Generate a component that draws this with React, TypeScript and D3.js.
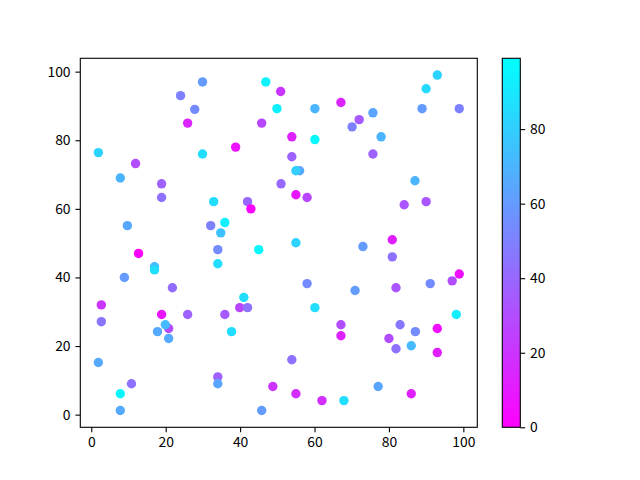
import React, { useEffect, useRef } from "react";
import * as d3 from "d3";

const xs = [1.9, 7.8, 11.9, 18.9, 24, 25.9, 27.8, 29.9, 29.9, 38.8, 45.8, 46.9, 50.9, 49.9, 51, 60.1, 67.1, 75.7, 72, 70.1, 77.9, 88.9, 98.9, 90, 93, 53.9, 60.1, 53.9, 75.7, 56, 55, 87, 18.9, 32.9, 42, 42.9, 9.7, 32.1, 35.9, 34.8, 34, 45, 12.7, 17, 17, 34, 8.9, 21.8, 41, 39.9, 42, 2.7, 55, 58, 84.1, 90, 55, 73, 80.9, 80.9, 98.9, 97, 91.1, 81.9, 58, 70.9, 60.1, 2.7, 18.9, 25.9, 35.9, 20.8, 19.9, 17.8, 20.8, 37.7, 1.9, 10.8, 7.8, 7.8, 34, 34, 48.8, 45.8, 98.1, 67.1, 67.1, 83, 87.1, 93, 80, 81.9, 86, 93, 53.9, 55, 62, 67.9, 77.1, 86];
const ys = [76.4, 69, 73.2, 67.3, 93, 85, 89, 97, 76, 78, 85, 97, 94.2, 89.2, 67.3, 89.2, 91, 88, 86, 83.9, 81, 89.2, 89.2, 95, 99, 81, 80.2, 75.2, 76, 71.1, 71.1, 68.2, 63.3, 62.1, 62.1, 60, 55.1, 55.1, 56, 53, 48.1, 48.1, 47, 43.1, 42.2, 44, 40, 37, 34.2, 31.2, 31.2, 32, 64.1, 63.3, 61.2, 62.1, 50.1, 49, 51, 46, 41, 39, 38.2, 37, 38.2, 36.2, 31.2, 27.1, 29.2, 29.2, 29.2, 25.1, 26.2, 24.2, 22.2, 24.2, 15.2, 9, 6.1, 1.2, 11, 9, 8.2, 1.2, 29.2, 26.2, 23, 26.2, 24.2, 25.1, 22.2, 19.2, 20.1, 18.1, 16, 6.1, 4.1, 4.1, 8.2, 6.1];
const cs = [82, 70, 30, 38, 50, 14, 54, 60, 86, 7, 27, 94, 20, 93, 40, 70, 14, 64, 34, 50, 70, 60, 50, 85, 82, 13, 97, 38, 38, 65, 80, 70, 44, 86, 40, 1, 65, 50, 93, 75, 54, 96, 0, 72, 86, 86, 60, 42, 86, 27, 44, 20, 8, 27, 33, 33, 82, 60, 12, 44, 6, 30, 54, 33, 54, 60, 86, 46, 8, 38, 35, 30, 72, 66, 66, 86, 66, 44, 96, 66, 38, 64, 20, 60, 92, 30, 13, 46, 54, 6, 30, 44, 72, 12, 44, 18, 18, 86, 64, 12];

const xTicks = [0, 20, 40, 60, 80, 100];
const yTicks = [0, 20, 40, 60, 80, 100];
const cTicks = [0, 20, 40, 60, 80];
const cMin = 0;
const cMax = 99;

const W = 640, H = 480;
const ax = { left: 80.3, right: 477.3, top: 58.3, bottom: 427.3 };
const cb = { left: 502.3, right: 520.3, top: 58.3, bottom: 427.3 };
const FONT = "'Noto Sans CJK SC', 'DejaVu Sans', sans-serif";
const FS = 13.9;

const cool = (t: number) => {
  const v = Math.max(0, Math.min(1, t));
  return d3.rgb(255 * (1 - v), 255 * v, 255).formatHex();
};

export default function App() {
  const ref = useRef<SVGSVGElement>(null);
  useEffect(() => {
    const svg = d3.select(ref.current);
    svg.selectAll("*").remove();
    const xmin = d3.min(xs)!, xmax = d3.max(xs)!;
    const ymin = d3.min(ys)!, ymax = d3.max(ys)!;
    const mx = (xmax - xmin) * 0.05, my = (ymax - ymin) * 0.05;
    const x = d3.scaleLinear().domain([xmin - mx, xmax + mx]).range([ax.left, ax.right]);
    const y = d3.scaleLinear().domain([ymin - my, ymax + my]).range([ax.bottom, ax.top]);
    const cNorm = d3.scaleLinear().domain([cMin, cMax]).range([0, 1]);

    const g = svg.append("g");
    g.selectAll("circle")
      .data(xs.map((v, i) => ({ x: v, y: ys[i], c: cs[i] })))
      .join("circle")
      .attr("cx", (d) => x(d.x))
      .attr("cy", (d) => y(d.y))
      .attr("r", 4.7)
      .attr("fill", (d) => cool(cNorm(d.c)));

    // frame
    svg.append("rect")
      .attr("x", ax.left).attr("y", ax.top)
      .attr("width", ax.right - ax.left).attr("height", ax.bottom - ax.top)
      .attr("fill", "none").attr("stroke", "#000").attr("stroke-width", 1.1);

    const styleAxis = (sel: any) => {
      sel.select(".domain").remove();
      sel.selectAll("line").attr("stroke", "#000").attr("stroke-width", 1.1);
      sel.selectAll("text").attr("font-family", FONT).attr("font-size", FS).attr("fill", "#000");
    };

    svg.append("g")
      .attr("transform", `translate(0,${ax.bottom})`)
      .call(d3.axisBottom(x).tickValues(xTicks).tickSize(4.86).tickPadding(4.86).tickFormat(d3.format("d")))
      .call(styleAxis);
    svg.append("g")
      .attr("transform", `translate(${ax.left},0)`)
      .call(d3.axisLeft(y).tickValues(yTicks).tickSize(4.86).tickPadding(4.86).tickFormat(d3.format("d")))
      .call(styleAxis);

    // colorbar
    const defs = svg.append("defs");
    const grad = defs.append("linearGradient").attr("id", "cbgrad")
      .attr("x1", 0).attr("y1", 1).attr("x2", 0).attr("y2", 0);
    d3.range(0, 11).forEach((i) => {
      grad.append("stop").attr("offset", i / 10).attr("stop-color", cool(i / 10));
    });
    svg.append("rect")
      .attr("x", cb.left).attr("y", cb.top)
      .attr("width", cb.right - cb.left).attr("height", cb.bottom - cb.top)
      .attr("fill", "url(#cbgrad)").attr("stroke", "#000").attr("stroke-width", 1.1);
    const cy = d3.scaleLinear().domain([cMin, cMax]).range([cb.bottom, cb.top]);
    svg.append("g")
      .attr("transform", `translate(${cb.right},0)`)
      .call(d3.axisRight(cy).tickValues(cTicks).tickSize(4.86).tickPadding(4.86).tickFormat(d3.format("d")))
      .call(styleAxis);
  }, []);
  return (
    <svg ref={ref} width={W} height={H} style={{ position: "absolute", left: 0, top: 0, background: "#fff" }} />
  );
}
